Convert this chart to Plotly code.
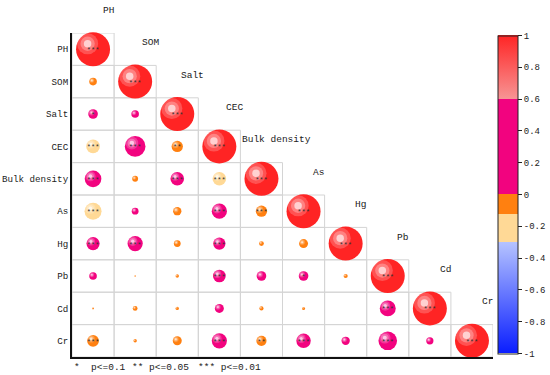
import math
import plotly.graph_objects as go

# ---------------- data ----------------
labels = ["PH", "SOM", "Salt", "CEC", "Bulk density", "As", "Hg", "Pb", "Cd", "Cr"]

# lower-triangle correlation rows (row i, columns 0..i-1); diagonal = 1
corr_rows = [
    [],
    [-0.05],
    [0.08, 0.05],
    [-0.16, 0.37, -0.11],
    [0.24, -0.03, 0.16, -0.16],
    [-0.25, 0.04, -0.06, 0.20, -0.11],
    [0.15, 0.20, -0.04, 0.13, -0.02, -0.07],
    [0.05, -0.002, -0.01, 0.14, 0.08, 0.08, -0.015],
    [-0.003, -0.02, -0.01, 0.07, -0.015, -0.008, 0.0, 0.22],
    [-0.12, -0.01, -0.07, 0.20, -0.09, 0.18, 0.06, 0.30, 0.045],
]

star_rows = [
    [],
    [""],
    ["*", ""],
    ["***", "***", "**"],
    ["***", "", "***", "***"],
    ["***", "", "", "***", "***"],
    ["***", "***", "", "***", "", ""],
    ["", "", "", "***", "", "*", ""],
    ["", "", "", "", "", "", "", "***"],
    ["***", "", "", "***", "**", "***", "", "***", ""],
]

cbar_tickvals = [1, 0.8, 0.6, 0.4, 0.2, 0, -0.2, -0.4, -0.6, -0.8, -1]
cbar_ticktext = ["1", "0.8", "0.6", "0.4", "0.2", "0", "-0.2", "-0.4", "-0.6", "-0.8", "-1"]

legend_items = ["*  p<=0.1", "** p<=0.05", "*** p<=0.01"]

# ---------------- style ----------------
FONT = "Liberation Mono"
W, H = 550, 375
ML, MT = 72, 33
MR, MB = W - 493, H - 357
PW, PH_ = W - ML - MR, H - MT - MB
n = len(labels)
px_x = PW / n
px_y = PH_ / n
MAXD = 34

colorscale = [
    [0.0, "#0a1eff"], [0.35, "#b6c4ff"],
    [0.35, "#ffd996"], [0.4375, "#ffd996"],
    [0.4375, "#ff8010"], [0.5, "#ff8010"],
    [0.5, "#f2037f"], [0.8, "#f2037f"],
    [0.8, "#f79494"], [1.0, "#ff2424"],
]

xs, ys, vals, sizes, stars = [], [], [], [], []
for i in range(n):
    row = list(corr_rows[i]) + [1.0]
    srow = list(star_rows[i]) + ["***"]
    for j, v in enumerate(row):
        xs.append(j)
        ys.append(i)
        vals.append(v)
        sizes.append(MAXD * math.sqrt(abs(v)))
        stars.append(srow[j])

fig = go.Figure()

# cell borders for the lower triangle
for i in range(n):
    for j in range(i + 1):
        fig.add_shape(type="rect", x0=j - 0.5, x1=j + 0.5, y0=i - 0.5, y1=i + 0.5,
                      line=dict(color="#d4d4d4", width=1), layer="below")

fig.add_trace(go.Scatter(
    x=xs, y=ys, mode="markers", cliponaxis=False, hoverinfo="skip",
    marker=dict(size=sizes, sizemode="diameter", color=vals, cmin=-1, cmax=1,
                colorscale=colorscale, line=dict(width=0), opacity=1,
                showscale=True,
                colorbar=dict(x=(497.7 - ML) / PW, xanchor="left",
                              y=(H - MB - 194.5) / PH_, yanchor="middle",
                              len=318 / PH_, lenmode="fraction",
                              thickness=20, thicknessmode="pixels",
                              xpad=0, ypad=0, outlinecolor="#222", outlinewidth=1,
                              ticks="outside", ticklen=4, tickcolor="#222",
                              tickvals=cbar_tickvals, ticktext=cbar_ticktext,
                              tickfont=dict(family=FONT, size=9, color="#222"))),
    showlegend=False))

# glossy highlights (derived from each bubble's size)
layers = [(0.62, "rgba(255,255,255,0.30)"), (0.42, "rgba(255,255,255,0.40)"),
          (0.22, "rgba(255,255,255,0.90)")]
for frac, col in layers:
    hx = [x - 0.16 * s / px_x for x, s in zip(xs, sizes)]
    hy = [y - 0.16 * s / px_y for y, s in zip(ys, sizes)]
    fig.add_trace(go.Scatter(
        x=hx, y=hy, mode="markers", cliponaxis=False, hoverinfo="skip",
        marker=dict(size=[s * frac for s in sizes], color=col, line=dict(width=0)),
        showlegend=False))

# significance stars
fig.add_trace(go.Scatter(
    x=xs, y=[y + 0.04 for y in ys], mode="text", text=stars, cliponaxis=False,
    textfont=dict(family=FONT, size=7, color="#333"), hoverinfo="skip",
    showlegend=False))

# diagonal labels (x in data units, y in paper units so the top one is not hidden)
for i, lab in enumerate(labels):
    fig.add_annotation(x=i + 0.36, y=1 - (i - 1.2 + 0.5) / n, xref="x", yref="paper",
                       text=lab, showarrow=False, xanchor="center", yanchor="middle",
                       font=dict(family=FONT, size=9.5, color="#222"))

# significance legend
for k, px in enumerate([72, 130, 196]):
    fig.add_annotation(x=(px - 72) / PW, y=-3 / PH_, xref="paper", yref="paper",
                       text=legend_items[k], showarrow=False, xanchor="left",
                       yanchor="top",
                       font=dict(family=FONT, size=9.5, color="#222"))

fig.update_xaxes(range=[-0.5, n - 0.5], showgrid=False, zeroline=False,
                 showticklabels=False, showline=True, linecolor="#111", linewidth=2,
                 ticks="", automargin=False)
fig.update_yaxes(range=[n - 0.5, -0.5], showgrid=False, zeroline=False,
                 tickvals=list(range(n)), ticktext=labels, showline=True,
                 linecolor="#111", linewidth=2, ticks="", ticklabelstandoff=0,
                 automargin=False,
                 tickfont=dict(family=FONT, size=9.2, color="#222"))

fig.update_layout(width=W, height=H,
                  margin=dict(l=ML, r=MR, t=MT, b=MB, autoexpand=False),
                  plot_bgcolor="white", paper_bgcolor="white")

fig.write_html("out.html", config={"displayModeBar": False},
               post_script="document.body.style.margin='0';")
